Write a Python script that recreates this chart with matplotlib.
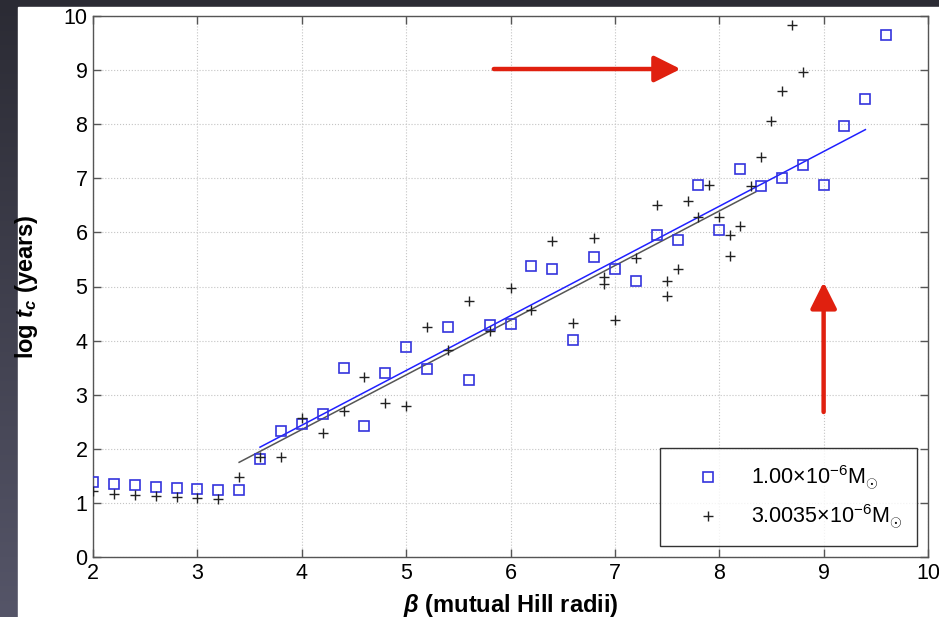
import numpy as np
import matplotlib
matplotlib.use("Agg")
import matplotlib.pyplot as plt
from matplotlib.colors import LinearSegmentedColormap
from matplotlib.patches import Rectangle, ArrowStyle

plt.rcParams["font.family"] = ["Liberation Sans", "DejaVu Sans"]
plt.rcParams["mathtext.fontset"] = "custom"
plt.rcParams["mathtext.rm"] = "Liberation Sans"
plt.rcParams["mathtext.it"] = "Liberation Sans:italic:bold"
plt.rcParams["mathtext.bf"] = "Liberation Sans:bold"

# data
beta_sq = [2.0, 2.2, 2.4, 2.6, 2.8, 3.0, 3.2, 3.4, 3.6, 3.8,
           4.0, 4.2, 4.4, 4.6, 4.8, 5.0, 5.2, 5.4, 5.6, 5.8,
           6.0, 6.2, 6.4, 6.6, 6.8, 7.0, 7.2, 7.4, 7.6, 7.8,
           8.0, 8.2, 8.4, 8.6, 8.8, 9.0, 9.2, 9.4, 9.6]
logt_sq = [1.38, 1.35, 1.33, 1.30, 1.28, 1.26, 1.24, 1.23, 1.82, 2.33,
           2.45, 2.65, 3.50, 2.43, 3.41, 3.89, 3.47, 4.25, 3.28, 4.29,
           4.31, 5.38, 5.33, 4.02, 5.54, 5.33, 5.10, 5.95, 5.86, 6.88,
           6.04, 7.18, 6.85, 7.00, 7.24, 6.88, 7.96, 8.47, 9.64]

beta_pl = [2.0, 2.2, 2.4, 2.6, 2.8, 3.0, 3.2, 3.4, 3.6, 3.8,
           4.0, 4.2, 4.4, 4.6, 4.8, 5.0, 5.2, 5.4, 5.6, 5.8,
           6.0, 6.2, 6.4, 6.6, 6.8, 6.9, 6.9, 7.0, 7.2, 7.4,
           7.5, 7.5, 7.6, 7.7, 7.8, 7.9, 8.0, 8.1, 8.1, 8.2,
           8.3, 8.4, 8.5, 8.6, 8.7, 8.8]
logt_pl = [1.22, 1.17, 1.14, 1.12, 1.10, 1.09, 1.07, 1.47, 1.85, 1.85,
           2.57, 2.29, 2.70, 3.33, 2.85, 2.79, 4.26, 3.83, 4.74, 4.17,
           4.98, 4.56, 5.85, 4.32, 5.90, 5.17, 5.05, 4.39, 5.53, 6.50,
           5.11, 4.83, 5.32, 6.58, 6.29, 6.87, 6.28, 5.95, 5.56, 6.12,
           6.86, 7.39, 8.06, 8.61, 9.83, 8.96]

# linear fits: slope, intercept, beta range
fit_sq = (1.012, -1.613, 3.6, 9.4)
fit_pl = (1.010, -1.684, 3.4, 8.35)

label_sq = r"1.00$\times$10$^{-6}$M$_{\odot}$"
label_pl = r"3.0035$\times$10$^{-6}$M$_{\odot}$"

W, H = 939, 617
fig = plt.figure(figsize=(W / 100, H / 100), dpi=100)

# dark slide background with white panel
bg = fig.add_axes([0, 0, 1, 1], zorder=-1)
bg.axis("off")
cmap = LinearSegmentedColormap.from_list("bg", ["#2b2b34", "#555568"])
grad = np.linspace(0, 1, 256).reshape(-1, 1)
bg.imshow(grad, cmap=cmap, aspect="auto", extent=[0, 1, 0, 1], origin="upper")
bg.add_patch(Rectangle((18 / W, 0), 1, (H - 7) / H, color="white"))
bg.set_xlim(0, 1)
bg.set_ylim(0, 1)

ax = fig.add_axes([93 / W, 1 - 557 / H, (928 - 93) / W, (557 - 16) / H])
ax.set_facecolor("white")

ax.plot(beta_sq, logt_sq, ls="none", marker="s", ms=7.4, mfc="none",
        mec="#3333dd", mew=1.2, label=label_sq, zorder=3)
ax.plot(beta_pl, logt_pl, ls="none", marker="+", ms=6.5, color="#222222",
        mew=1.0, label=label_pl, zorder=3)

for (k, b, x0, x1), col in [(fit_pl, "#555555"), (fit_sq, "#2020ff")]:
    xs = np.array([x0, x1])
    ax.plot(xs, k * xs + b, color=col, lw=1.1, zorder=2)

ax.set_xlim(2, 10)
ax.set_ylim(0, 10)
ax.set_xticks(range(2, 11))
ax.set_yticks(range(0, 11))
ax.grid(True, ls=":", color="#c4c4c4", lw=0.8)
ax.tick_params(direction="in", length=5.8, width=1, top=True, right=True,
               labelsize=15.5, color="#555555", pad=4)
for sp in ax.spines.values():
    sp.set_color("#555555")
    sp.set_linewidth(1.0)

ax.set_xlabel(r"$\beta$ (mutual Hill radii)", fontsize=17, fontweight="bold")
ax.set_ylabel(r"log $t_c$ (years)", fontsize=17, fontweight="bold")
ax.xaxis.set_label_coords(0.5, -0.064)
ax.yaxis.set_label_coords(-0.063, 0.5)

leg = ax.legend(loc="lower right", bbox_to_anchor=((917 - 93) / 835, 11 / 541),
                borderaxespad=0, fontsize=15.5, frameon=True, fancybox=False,
                edgecolor="black", handlelength=3.0, handletextpad=0.5,
                borderpad=0.7, labelspacing=0.5, numpoints=1)
leg.get_frame().set_linewidth(1.0)

# red annotation arrows
style = ArrowStyle("-|>", head_length=1.0, head_width=0.5)
for tail, tip in [((5.84, 9.02), (7.63, 9.02)), ((9.0, 2.68), (9.0, 5.08))]:
    ax.annotate("", xy=tip, xytext=tail,
                arrowprops=dict(arrowstyle=style, mutation_scale=16,
                                color="#e0200f", lw=3.2,
                                shrinkA=0, shrinkB=0), zorder=5)

fig.savefig("out.png", dpi=100)
